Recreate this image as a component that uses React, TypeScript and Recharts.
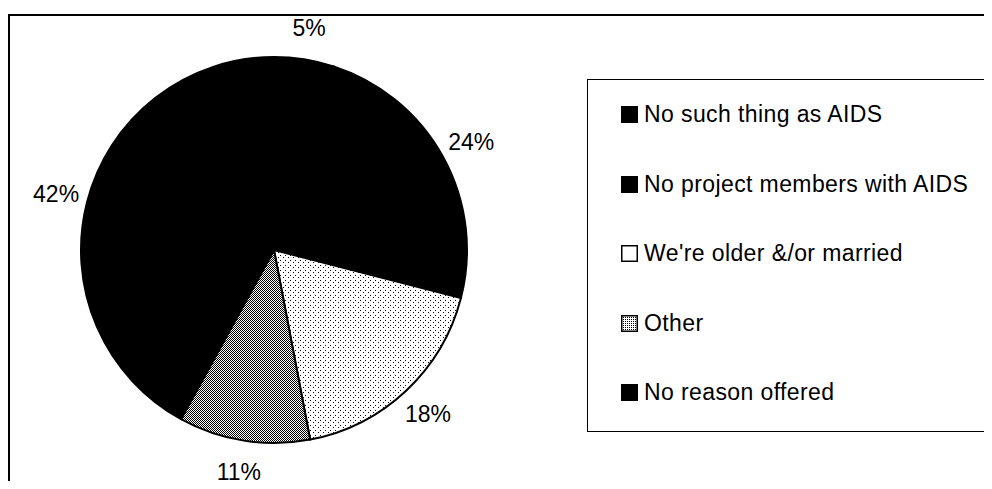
import React from "react";
import { Cell, Legend, Pie, PieChart } from "recharts";

// reasons given, clockwise from 12 o'clock
const categories = [
  "No such thing as AIDS",
  "No project members with AIDS",
  "We're older &/or married",
  "Other",
  "No reason offered",
];
const shares = [5, 24, 18, 11, 42];

const SLICE_FILLS = ["#000", "#000", "url(#lightDots)", "url(#denseDots)", "#000"];
const ICON_FILLS = ["#000", "#000", "#fff", "url(#denseDotsIcon)", "#000"];

const data = categories.map((name, i) => ({ name, value: shares[i] }));

const RAD = Math.PI / 180;

const renderLabel = (props: any) => {
  const { cx, cy, midAngle, outerRadius, value } = props;
  const r = outerRadius + 32;
  const x = cx + r * Math.cos(-midAngle * RAD);
  const y = cy + r * Math.sin(-midAngle * RAD);
  return (
    <text
      x={x}
      y={y}
      textAnchor="middle"
      dominantBaseline="central"
      fontSize={23}
      fill="#000"
      fontFamily="'Liberation Sans', Arial, sans-serif"
    >
      {value}%
    </text>
  );
};

// legend keeps the data order (recharts would sort it by name)
const renderLegend = () => (
  <div
    style={{
      width: 420,
      height: 353,
      border: "1.5px solid #000",
      boxSizing: "border-box",
      background: "#fff",
    }}
  >
    <svg width={0} height={0} style={{ position: "absolute" }}>
      <defs>
        <pattern id="denseDotsIcon" width={2} height={2} patternUnits="userSpaceOnUse">
          <rect width={2} height={2} fill="#fff" />
          <rect width={1} height={1} fill="#000" />
        </pattern>
      </defs>
    </svg>
    {categories.map((name, i) => (
      <div
        key={name}
        style={{
          height: 69.5,
          display: "flex",
          alignItems: "center",
          paddingLeft: 33,
          fontSize: 23,
          letterSpacing: 0.4,
          color: "#000",
        }}
      >
        <svg width={17} height={17} style={{ marginRight: 6, flexShrink: 0 }}>
          <rect x={0.75} y={0.75} width={15.5} height={15.5} fill={ICON_FILLS[i]} stroke="#000" strokeWidth={1.5} />
        </svg>
        <span>{name}</span>
      </div>
    ))}
  </div>
);

export default function App() {
  return (
    <div
      style={{
        margin: -8,
        width: 992,
        height: 489,
        overflow: "hidden",
        position: "relative",
        background: "#fff",
        fontFamily: "'Liberation Sans', Arial, sans-serif",
      }}
    >
      <div
        style={{
          position: "absolute",
          left: 8,
          top: 14,
          width: 1200,
          height: 800,
          borderLeft: "2px solid #000",
          borderTop: "2px solid #000",
        }}
      />
      <div style={{ position: "absolute", left: 0, top: 0 }}>
        <PieChart width={992} height={489} margin={{ top: 0, right: 0, bottom: 0, left: 0 }}>
          <defs>
            <pattern id="lightDots" width={5} height={5} patternUnits="userSpaceOnUse">
              <rect width={5} height={5} fill="#fff" />
              <rect x={0} y={0} width={1} height={1} fill="#000" />
              <rect x={3} y={2} width={1} height={1} fill="#000" />
            </pattern>
            <pattern id="denseDots" width={2} height={2} patternUnits="userSpaceOnUse">
              <rect width={2} height={2} fill="#fff" />
              <rect x={0} y={0} width={1} height={1} fill="#000" />
              <rect x={1} y={1} width={1} height={1} fill="#000" />
            </pattern>
          </defs>
          <Pie
            data={data}
            dataKey="value"
            nameKey="name"
            cx={274}
            cy={250}
            outerRadius={193}
            startAngle={90}
            endAngle={-270}
            stroke="#000"
            strokeWidth={2}
            label={renderLabel}
            labelLine={false}
            isAnimationActive={false}
          >
            {data.map((d, i) => (
              <Cell key={d.name} fill={SLICE_FILLS[i]} />
            ))}
          </Pie>
          <Legend
            layout="vertical"
            align="right"
            verticalAlign="top"
            content={renderLegend}
            wrapperStyle={{ left: 587, top: 79, width: 420, height: 353 }}
          />
        </PieChart>
      </div>
    </div>
  );
}
